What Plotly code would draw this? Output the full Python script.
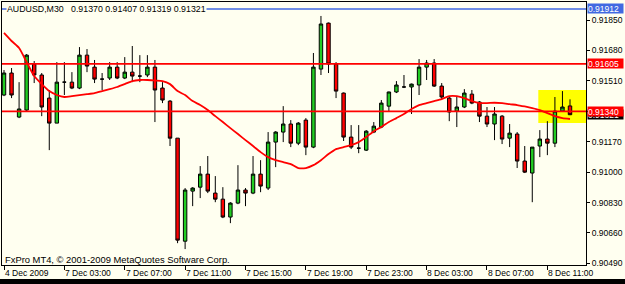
import plotly.graph_objects as go

# ---------------- data ----------------
bars = list(range(76))

opens = [0.91431, 0.91554, 0.91308, 0.91347, 0.91604, 0.91543, 0.91414, 0.91274, 0.91503, 0.91503,
         0.91470, 0.91654, 0.91587, 0.91520, 0.91526, 0.91587, 0.91526, 0.91559, 0.91537, 0.91543,
         0.91587, 0.91470, 0.91397, 0.91190, 0.90614, 0.90894, 0.90916, 0.90989, 0.90883, 0.90849,
         0.90749, 0.90827, 0.90900, 0.90883, 0.90989, 0.90911, 0.91168, 0.91224, 0.91269, 0.91162,
         0.91291, 0.91140, 0.91576, 0.91833, 0.91604, 0.91442, 0.91196, 0.91134, 0.91123, 0.91224,
         0.91252, 0.91369, 0.91448, 0.91476, 0.91476, 0.91487, 0.91587, 0.91610, 0.91481, 0.91414,
         0.91341, 0.91364, 0.91436, 0.91392, 0.91313, 0.91269, 0.91313, 0.91190, 0.91213, 0.91062,
         0.90995, 0.91146, 0.91185, 0.91162, 0.91341, 0.91370]

highs = [0.91571, 0.91582, 0.91503, 0.91660, 0.91621, 0.91554, 0.91459, 0.91615, 0.91615, 0.91559,
         0.91699, 0.91688, 0.91627, 0.91554, 0.91615, 0.91615, 0.91643, 0.91705, 0.91654, 0.91654,
         0.91627, 0.91503, 0.91403, 0.91190, 0.90911, 0.90916, 0.91034, 0.91090, 0.90978, 0.90916,
         0.90832, 0.91039, 0.90911, 0.91090, 0.91067, 0.91224, 0.91229, 0.91369, 0.91291, 0.91280,
         0.91302, 0.91666, 0.91873, 0.91836, 0.91615, 0.91445, 0.91263, 0.91263, 0.91235, 0.91280,
         0.91403, 0.91450, 0.91509, 0.91543, 0.91495, 0.91632, 0.91627, 0.91632, 0.91498, 0.91420,
         0.91420, 0.91464, 0.91459, 0.91397, 0.91364, 0.91364, 0.91319, 0.91269, 0.91224, 0.91146,
         0.91140, 0.91235, 0.91285, 0.91420, 0.91453, 0.91407]

lows = [0.91425, 0.91414, 0.91302, 0.91341, 0.91498, 0.91313, 0.91123, 0.91274, 0.91431, 0.91464,
        0.91464, 0.91559, 0.91498, 0.91459, 0.91515, 0.91520, 0.91520, 0.91503, 0.91503, 0.91531,
        0.91280, 0.91386, 0.91146, 0.90603, 0.90570, 0.90810, 0.90855, 0.90883, 0.90832, 0.90743,
        0.90715, 0.90821, 0.90810, 0.90877, 0.90888, 0.90900, 0.91028, 0.91168, 0.91140, 0.91151,
        0.91095, 0.91134, 0.91543, 0.91554, 0.91414, 0.91174, 0.91129, 0.91106, 0.91118, 0.91218,
        0.91246, 0.91336, 0.91442, 0.91470, 0.91325, 0.91431, 0.91515, 0.91476, 0.91408, 0.91285,
        0.91252, 0.91358, 0.91380, 0.91280, 0.91252, 0.91179, 0.91157, 0.91140, 0.91023, 0.90995,
        0.90832, 0.91084, 0.91095, 0.91140, 0.91336, 0.91319]

closes = [0.91554, 0.91431, 0.91353, 0.91654, 0.91543, 0.91364, 0.91274, 0.91503, 0.91503, 0.91470,
          0.91654, 0.91593, 0.91520, 0.91520, 0.91587, 0.91526, 0.91559, 0.91537, 0.91537, 0.91587,
          0.91459, 0.91403, 0.91190, 0.90620, 0.90900, 0.90911, 0.90989, 0.90894, 0.90849, 0.90749,
          0.90827, 0.90900, 0.90883, 0.90989, 0.90922, 0.91168, 0.91224, 0.91269, 0.91162, 0.91274,
          0.91140, 0.91587, 0.91828, 0.91604, 0.91453, 0.91196, 0.91140, 0.91134, 0.91229, 0.91257,
          0.91386, 0.91448, 0.91487, 0.91476, 0.91492, 0.91587, 0.91610, 0.91481, 0.91420, 0.91336,
          0.91364, 0.91442, 0.91386, 0.91313, 0.91269, 0.91325, 0.91185, 0.91218, 0.91062, 0.91000,
          0.91140, 0.91185, 0.91162, 0.91341, 0.91364, 0.91321]

ma_values = [0.91778, 0.91733, 0.91694, 0.91615, 0.91537, 0.91492, 0.91453, 0.91431, 0.91420, 0.91425,
             0.91431, 0.91436, 0.91442, 0.91453, 0.91464, 0.91476, 0.91492, 0.91509, 0.91515, 0.91515,
             0.91512, 0.91509, 0.91492, 0.91453, 0.91431, 0.91397, 0.91375, 0.91347, 0.91313, 0.91280,
             0.91246, 0.91213, 0.91179, 0.91146, 0.91112, 0.91084, 0.91067, 0.91056, 0.91045, 0.91023,
             0.91023, 0.91039, 0.91067, 0.91101, 0.91129, 0.91140, 0.91151, 0.91168, 0.91196, 0.91229,
             0.91252, 0.91280, 0.91302, 0.91325, 0.91353, 0.91375, 0.91386, 0.91397, 0.91408, 0.91425,
             0.91425, 0.91414, 0.91397, 0.91386, 0.91386, 0.91388, 0.91386, 0.91380, 0.91375, 0.91367,
             0.91358, 0.91347, 0.91330, 0.91313, 0.91302, 0.91297]

time_tick_bars = [0, 8, 16, 24, 32, 40, 48, 56, 64, 72]
time_tick_labels = ["4 Dec 2009", "7 Dec 03:00", "7 Dec 07:00", "7 Dec 11:00", "7 Dec 15:00",
                    "7 Dec 19:00", "7 Dec 23:00", "8 Dec 03:00", "8 Dec 07:00", "8 Dec 11:00"]

price_ticks = [0.90490, 0.90660, 0.90830, 0.91000, 0.91170, 0.91340, 0.91510, 0.91680, 0.91850]

blue_level = 0.91912
red_levels = [0.91605, 0.91340]
bid_price = 0.91321
box_bars = [70.8, 77.5]
box_prices = [0.91274, 0.91459]

header = "AUDUSD,M30\u00a0\u00a0\u00a00.91370 0.91407 0.91319 0.91321"
footer = "FxPro MT4, \u00a9 2001-2009 MetaQuotes Software Corp."

# ---------------- styling ----------------
BG = "#FFFFF0"
FONT = "Liberation Sans, Arial, sans-serif"
FS = 8.5

fig = go.Figure()

fig.add_trace(go.Candlestick(
    x=bars, open=opens, high=highs, low=lows, close=closes,
    increasing=dict(fillcolor="#22CC22", line=dict(color="#000000", width=1)),
    decreasing=dict(fillcolor="#FF0000", line=dict(color="#000000", width=1)),
    whiskerwidth=0, showlegend=False, hoverinfo="skip",
))

fig.add_trace(go.Scatter(
    x=bars, y=ma_values, mode="lines",
    line=dict(color="#FF0000", width=1.8, shape="spline", smoothing=0.6),
    showlegend=False, hoverinfo="skip",
))

shapes = [
    dict(type="rect", xref="x", yref="y", x0=box_bars[0], x1=box_bars[1],
         y0=box_prices[0], y1=box_prices[1], fillcolor="#FFFF00", line=dict(width=0), layer="below"),
    dict(type="line", xref="paper", yref="y", x0=0, x1=1, y0=blue_level, y1=blue_level,
         line=dict(color="#4169E1", width=1.5), layer="above"),
    # bottom black strip of the window
    dict(type="rect", xref="paper", yref="paper", x0=-0.01, x1=1.1, y0=-0.0535, y1=-0.09,
         fillcolor="#000000", line=dict(width=0), layer="above"),
]
for lv in red_levels:
    shapes.append(dict(type="line", xref="paper", yref="y", x0=0, x1=1, y0=lv, y1=lv,
                       line=dict(color="#FF0000", width=1.8), layer="above"))

annotations = [
    dict(text=header, xref="paper", yref="paper", x=0.0068, y=0.9734, xanchor="left",
         yanchor="middle", showarrow=False, font=dict(family=FONT, size=8.8, color="#000000"),
         bgcolor=BG, borderpad=0),
    dict(text=footer, xref="paper", yref="paper", x=0.002, y=0.021, xanchor="left",
         yanchor="middle", showarrow=False, font=dict(family=FONT, size=9.4, color="#000000")),
]
for b, lab in zip(time_tick_bars, time_tick_labels):
    annotations.append(dict(text=lab, xref="x", yref="paper", x=b - 0.15, y=-0.031,
                            xanchor="left", yanchor="middle", showarrow=False,
                            font=dict(family=FONT, size=FS, color="#000000")))

label_boxes = [(bid_price, "#000000"), (blue_level, "#4169E1"),
               (red_levels[0], "#FF0000"), (red_levels[1], "#FF0000")]
for val, col in label_boxes:
    annotations.append(dict(text=f"{val:.5f}", xref="paper", yref="y", x=1.0017, y=val,
                            xanchor="left", yanchor="middle", showarrow=False,
                            width=35, height=9, align="left", bgcolor=col, borderpad=0,
                            font=dict(family=FONT, size=FS, color="#FFFFFF")))

fig.update_layout(
    width=625, height=284,
    margin=dict(l=2, r=39, t=2, b=19, autoexpand=False),
    paper_bgcolor=BG, plot_bgcolor=BG,
    shapes=shapes, annotations=annotations,
    boxgap=0.35,
    xaxis=dict(range=[-0.265, 77.12], showgrid=False, zeroline=False,
               showline=True, linecolor="#000000", linewidth=1, mirror=True,
               tickvals=time_tick_bars, ticks="outside", ticklen=4, tickcolor="#000000",
               showticklabels=False, rangeslider=dict(visible=False), fixedrange=True),
    yaxis=dict(range=[0.90481, 0.91951], side="right", showgrid=False, zeroline=False,
               showline=True, linecolor="#000000", linewidth=1, mirror=True,
               tickvals=price_ticks, tickformat=".5f", ticks="outside", ticklen=3,
               tickcolor="#000000", tickfont=dict(family=FONT, size=FS, color="#000000"),
               fixedrange=True),
)

fig.write_html("out.html")
